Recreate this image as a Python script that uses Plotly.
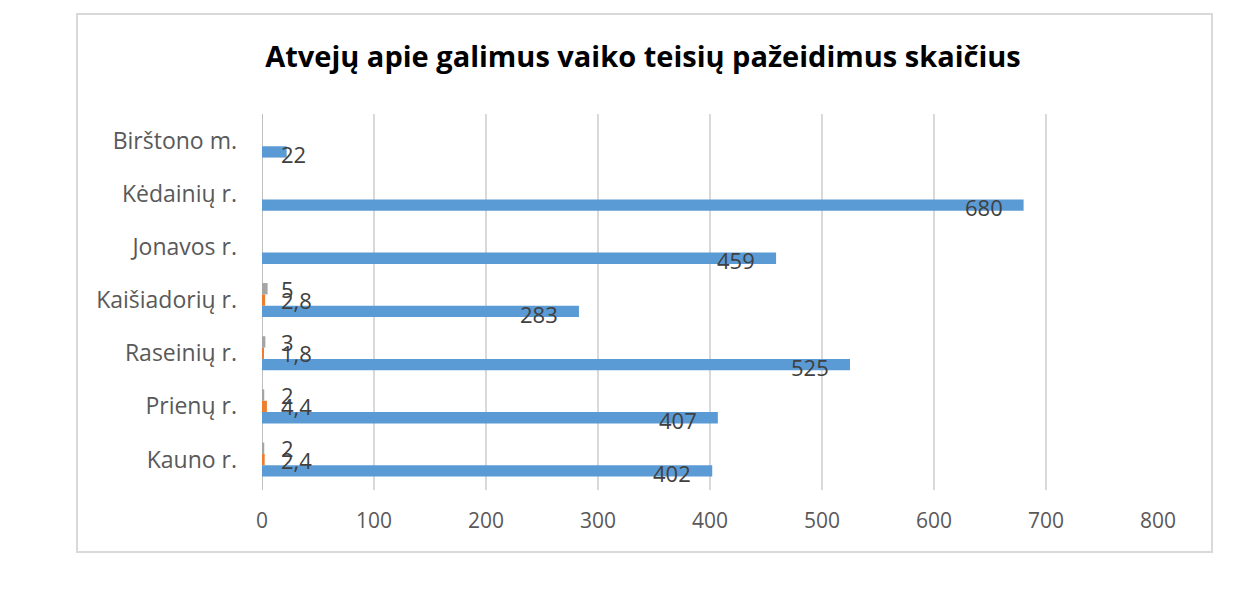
"""Horizontal grouped bar chart: cases of possible child-rights violations."""
import plotly.graph_objects as go

# ----- data (bottom to top, as drawn) --------------------------------------
categories = ["Kauno r.", "Prienų r.", "Raseinių r.", "Kaišiadorių r.",
              "Jonavos r.", "Kėdainių r.", "Birštono m."]
cases = [402, 407, 525, 283, 459, 680, 22]
series_2 = [2.4, 4.4, 1.8, 2.8, None, None, None]
series_3 = [2, 2, 3, 5, None, None, None]

TITLE = "Atvejų apie galimus vaiko teisių pažeidimus skaičius"
X_TICKS = [0, 100, 200, 300, 400, 500, 600, 700, 800]

COLORS = ["#5b9bd5", "#ed7d31", "#a5a5a5"]
FONT = "Open Sans"
LABEL_COLOR = "#404040"

W, H = 1248, 602
PAGE_OFF = 8  # body margin of the html page
PLOT_L, PLOT_R, PLOT_T, PLOT_B = 262 - PAGE_OFF, 1158 - PAGE_OFF, 114 - PAGE_OFF, 490 - PAGE_OFF
BARGAP = 0.36


def fmt(v):
    return f"{v:g}".replace(".", ",")


fig = go.Figure()
for name, vals, col in zip(["cases", "s2", "s3"], [cases, series_2, series_3], COLORS):
    fig.add_trace(go.Bar(y=categories, x=vals, orientation="h", name=name,
                         marker=dict(color=col, line=dict(width=0)),
                         hoverinfo="skip"))

# data labels, placed like the Excel original
band_px = (PLOT_B - PLOT_T) / len(categories)
bar_px = band_px * (1 - BARGAP) / 3
annotations = []
for i, series in enumerate([cases, series_2, series_3]):
    offset = (i - 1) * bar_px  # blue lowest, gray highest
    for cat, v in zip(categories, series):
        if v is None:
            continue
        big = i == 0 and v > 100
        annotations.append(dict(
            x=v if big else 0, y=cat, text=fmt(v), showarrow=False,
            xanchor="right" if big else "left",
            xshift=-19 if big else 17,
            yshift=offset - (2 if i == 0 else 0),
            font=dict(family=FONT, size=22, color=LABEL_COLOR),
        ))

fig.update_layout(
    width=W, height=H,
    barmode="group", bargap=BARGAP, bargroupgap=0,
    showlegend=False,
    paper_bgcolor="white", plot_bgcolor="white",
    margin=dict(l=PLOT_L, r=W - PLOT_R, t=PLOT_T, b=H - PLOT_B),
    title=dict(text=f"<b>{TITLE}</b>", x=(643 - PAGE_OFF) / W, xanchor="center",
               y=1 - (57 - PAGE_OFF) / H, yanchor="middle",
               font=dict(family=FONT, size=29, color="#000000")),
    annotations=annotations,
    font=dict(family=FONT),
)
fig.update_xaxes(range=[0, 800], tickvals=X_TICKS, showgrid=True,
                 gridcolor="#d9d9d9", gridwidth=2, zeroline=False,
                 showline=False, ticklabelstandoff=16,
                 tickfont=dict(family=FONT, size=21, color="#595959"))
fig.update_yaxes(categoryorder="array", categoryarray=categories,
                 showgrid=False, zeroline=False, showline=False,
                 ticklabelstandoff=24,
                 tickfont=dict(family=FONT, size=23, color="#595959"))

# chart frame
pw, ph = PLOT_R - PLOT_L, PLOT_B - PLOT_T
fig.add_shape(type="rect", xref="paper", yref="paper",
              x0=(77 - PAGE_OFF - PLOT_L) / pw, x1=(1212 - PAGE_OFF - PLOT_L) / pw,
              y0=(PLOT_B - (552 - PAGE_OFF)) / ph, y1=(PLOT_B - (14 - PAGE_OFF)) / ph,
              line=dict(color="#d9d9d9", width=2), layer="below")
# left axis line at zero
fig.add_shape(type="line", xref="x", yref="paper", x0=0, x1=0, y0=0, y1=1,
              line=dict(color="#bfbfbf", width=2), layer="below")

fig.write_html("out.html")
